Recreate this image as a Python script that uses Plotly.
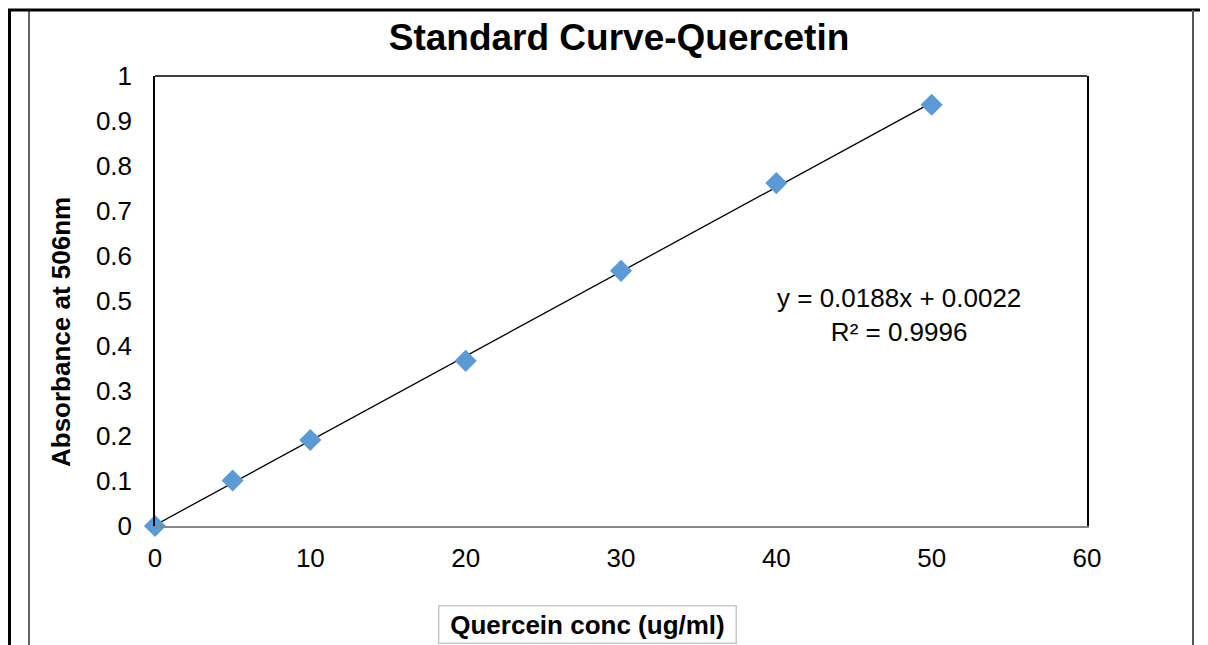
import numpy as np
import plotly.graph_objects as go

conc = [0, 5, 10, 20, 30, 40, 50]
absorbance = [0.0, 0.101, 0.191, 0.367, 0.567, 0.762, 0.936]
x_ticks = [0, 10, 20, 30, 40, 50, 60]
y_ticks = [0, 0.1, 0.2, 0.3, 0.4, 0.5, 0.6, 0.7, 0.8, 0.9, 1]
title = "Standard Curve-Quercetin"
x_title = "Quercein conc (ug/ml)"
y_title = "Absorbance at 506nm"
eq_text = "y = 0.0188x + 0.0022<br>R² = 0.9996"

slope, intercept = np.polyfit(conc, absorbance, 1)
fit_x = [min(conc), max(conc)]
fit_y = [slope * v + intercept for v in fit_x]

# page has an 8px body margin, so the figure starts at (8, 8) of the window
OFF = 8
W, H = 1208 - OFF, 645 - OFF
left, right, top, bottom = 155, 1087, 76, 526   # plot area in window coords
ml, mr, mt, mb = left - OFF, W - (right - OFF), top - OFF, H - (bottom - OFF)
pw, ph = right - left, bottom - top

def px(x):
    return (x - left) / pw

def py(y):
    return (bottom - y) / ph

fig = go.Figure()
fig.add_trace(go.Scatter(x=fit_x, y=fit_y, mode="lines", cliponaxis=False,
                         line=dict(color="black", width=1.3), showlegend=False))
fig.add_trace(go.Scatter(x=conc, y=absorbance, mode="markers", cliponaxis=False,
                         marker=dict(symbol="diamond", size=17, color="#5B9BD5",
                                     line=dict(width=0)), showlegend=False))

font = "Liberation Sans, Arial, sans-serif"
fig.update_layout(
    width=W, height=H,
    margin=dict(l=ml, r=mr, t=mt, b=mb, autoexpand=False),
    paper_bgcolor="white", plot_bgcolor="white",
    font=dict(family=font, size=26, color="black"),
    title=dict(text="<b>" + title + "</b>", x=(619 - OFF) / W, xanchor="center",
               y=1 - (37 - OFF) / H, yanchor="middle", font=dict(size=37, color="black")),
    xaxis=dict(range=[0, 60], tickvals=x_ticks, ticktext=[str(v) for v in x_ticks],
               showgrid=False, zeroline=False, showline=True, linecolor="#888888",
               linewidth=2, ticks="", ticklabelstandoff=8,
               tickfont=dict(size=26)),
    yaxis=dict(range=[0, 1], tickvals=y_ticks, ticktext=[("%g" % v) for v in y_ticks],
               showgrid=False, zeroline=False, showline=True, linecolor="black",
               linewidth=1.5, mirror=True, ticks="", ticklabelstandoff=16,
               tickfont=dict(size=26)),
)

shapes = [
    dict(type="line", xref="paper", yref="paper", x0=0, x1=1, y0=1, y1=1,
         line=dict(color="black", width=1.5)),
    dict(type="line", xref="paper", yref="paper", x0=px(OFF), x1=px(1208), y0=py(10), y1=py(10),
         line=dict(color="black", width=3)),
    dict(type="line", xref="paper", yref="paper", x0=px(9.5), x1=px(9.5), y0=py(10), y1=py(645),
         line=dict(color="black", width=3)),
    dict(type="line", xref="paper", yref="paper", x0=px(29), x1=px(29), y0=py(10), y1=py(645),
         line=dict(color="black", width=1.2)),
    dict(type="line", xref="paper", yref="paper", x0=px(1193), x1=px(1193), y0=py(10), y1=py(645),
         line=dict(color="#555555", width=2)),
]
fig.update_layout(shapes=shapes)

fig.add_annotation(x=px(899), y=py(315), xref="paper", yref="paper",
                   xanchor="center", yanchor="middle",
                   text=eq_text, showarrow=False, align="center",
                   font=dict(size=26, color="black"))
fig.add_annotation(x=px(587), y=py(624), xref="paper", yref="paper",
                   xanchor="center", yanchor="middle", width=290, height=30,
                   text="<b>" + x_title + "</b>", showarrow=False,
                   bordercolor="#C8C8C8", borderwidth=1.5, borderpad=3,
                   bgcolor="white", font=dict(size=26, color="black"))
fig.add_annotation(x=px(61), y=py(332), xref="paper", yref="paper",
                   xanchor="center", yanchor="middle",
                   text="<b>" + y_title + "</b>", showarrow=False, textangle=-90,
                   font=dict(size=26, color="black"))

fig.write_html("out.html")
